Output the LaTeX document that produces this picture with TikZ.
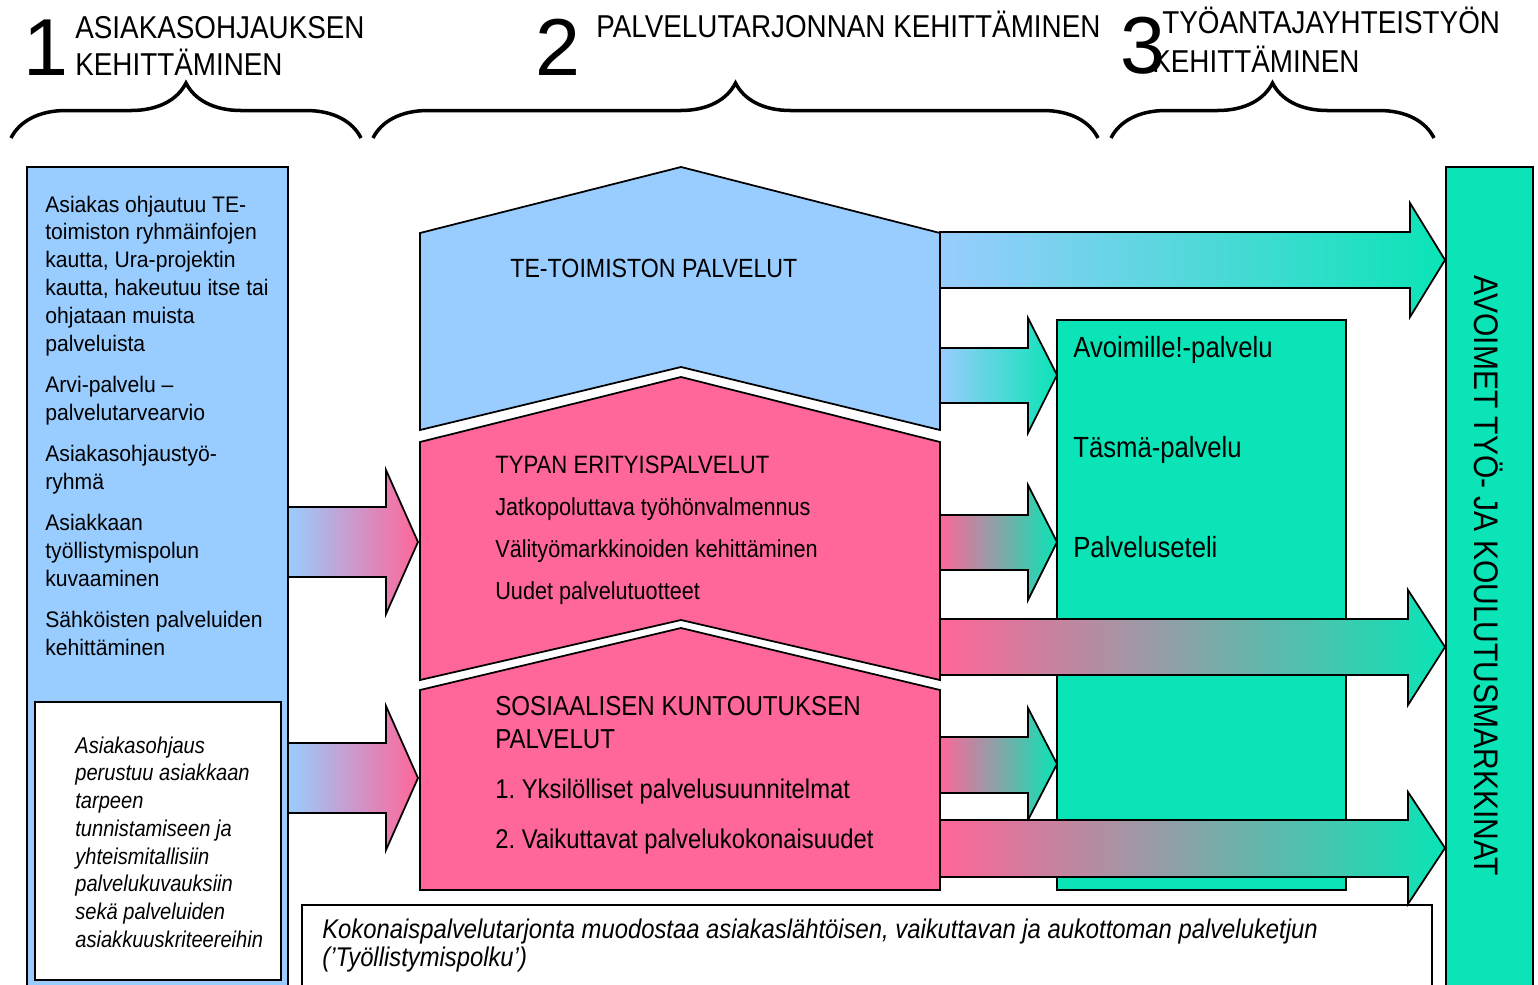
\documentclass[tikz,border=0pt]{standalone}
\usepackage{fontspec}
\setmainfont{Liberation Sans}[FakeStretch=0.88]
\newfontfamily\digitfont{Liberation Sans}
\newfontfamily\leftfont{Liberation Sans}[FakeStretch=0.94]
\usetikzlibrary{decorations.pathreplacing}
\definecolor{tblue}{RGB}{153,204,255}
\definecolor{tpink}{RGB}{255,102,153}
\definecolor{tgreen}{RGB}{10,228,182}
\frenchspacing

\begin{document}
\begin{tikzpicture}[x=0.02cm, y=-0.02cm,
    box/.style={draw=black, line width=1pt},
    house/.style={draw=black, line width=1pt, line join=miter},
    blockarr/.style={draw=black, line width=1pt, line join=miter},
    brc/.style={decorate, decoration={brace, amplitude=1.1cm}, line width=2pt},
    hdr/.style={anchor=base west, inner sep=0pt, font=\fontsize{18}{22}\selectfont},
    num/.style={anchor=base west, inner sep=0pt, font=\digitfont\fontsize{46}{50}\selectfont},
    lbl/.style={anchor=base west, inner sep=0pt}]

    \useasboundingbox (0,0) rectangle (1538,984);
    \clip (0,0) rectangle (1538,984);

    % otsikot
    \node[num] (n1) at (23,75) {1};
    \node[hdr] (h1a) at (75,38) {ASIAKASOHJAUKSEN};
    \node[hdr] (h1b) at (75,75) {KEHITTÄMINEN};
    \node[num] (n2) at (535,75) {2};
    \node[hdr] (h2) at (596,37) {PALVELUTARJONNAN KEHITTÄMINEN};
    \node[num] (n3) at (1120,73) {3};
    \node[hdr] (h3a) at (1162,33) {TYÖANTAJAYHTEISTYÖN};
    \node[hdr] (h3b) at (1152,72) {KEHITTÄMINEN};

    \draw[brc] (11,138) -- (361,138);
    \draw[brc] (373,138) -- (1098,138);
    \draw[brc] (1111,138) -- (1434,138);

    % asiakasohjaus
    \draw[box, fill=tblue] (27,167) rectangle (288,1000);
    \node[lbl, font=\leftfont\fontsize{12.8}{15.9}\selectfont] (ohjautuu) at (45,212)
        {\parbox[t]{6cm}{Asiakas ohjautuu TE-\\toimiston ryhmäinfojen\\kautta, Ura-projektin\\kautta, hakeutuu itse tai\\ohjataan muista\\palveluista\\[7.5pt]Arvi-palvelu –\\palvelutarvearvio\\[7.5pt]Asiakasohjaustyö-\\ryhmä\\[7.5pt]Asiakkaan\\työllistymispolun\\kuvaaminen\\[7.5pt]Sähköisten palveluiden\\kehittäminen}};
    \draw[box, fill=white] (35,702) rectangle (281,980);
    \node[lbl, font=\itshape\fontsize{13}{15.8}\selectfont] (perustuu) at (75,753)
        {\parbox[t]{5cm}{Asiakasohjaus\\perustuu asiakkaan\\tarpeen\\tunnistamiseen ja\\yhteismitallisiin\\palvelukuvauksiin\\sekä palveluiden\\asiakkuuskriteereihin}};

    % palvelutarjonta
    \draw[house, fill=tblue] (420,233) -- (681,167) -- (940,233) -- (940,430) -- (681,367) -- (420,430) -- cycle;
    \draw[house, fill=tpink] (420,442) -- (681,377) -- (940,442) -- (940,680) -- (681,620) -- (420,680) -- cycle;
    \draw[house, fill=tpink] (420,690) -- (681,628) -- (940,690) -- (940,890) -- (420,890) -- cycle;

    \node[lbl, font=\fontsize{15}{18}\selectfont] (te) at (510,277) {TE-TOIMISTON PALVELUT};
    \node[lbl, font=\fontsize{14.3}{17}\selectfont] (typa) at (495,473) {TYPAN ERITYISPALVELUT};
    \node[lbl, font=\fontsize{14}{17}\selectfont] (typa1) at (495,515) {Jatkopoluttava työhönvalmennus};
    \node[lbl, font=\fontsize{14}{17}\selectfont] (typa2) at (495,557) {Välityömarkkinoiden kehittäminen};
    \node[lbl, font=\fontsize{14}{17}\selectfont] (typa3) at (495,599) {Uudet palvelutuotteet};
    \node[lbl, font=\fontsize{15.6}{18}\selectfont] (sos) at (495,715) {SOSIAALISEN KUNTOUTUKSEN};
    \node[lbl, font=\fontsize{15.6}{18}\selectfont] (sosb) at (495,748) {PALVELUT};
    \node[lbl, font=\fontsize{15.4}{18}\selectfont] (sos1) at (495,798) {1. Yksilölliset palvelusuunnitelmat};
    \node[lbl, font=\fontsize{15.4}{18}\selectfont] (sos2) at (495,848) {2. Vaikuttavat palvelukokonaisuudet};

    % tyonantajat
    \draw[box, fill=tgreen] (1057,320) rectangle (1346,890);
    \node[lbl, font=\fontsize{16.6}{19}\selectfont] (avoimille) at (1073,357) {Avoimille!-palvelu};
    \node[lbl, font=\fontsize{16.6}{19}\selectfont] (tasma) at (1073,457) {Täsmä-palvelu};
    \node[lbl, font=\fontsize{16.6}{19}\selectfont] (seteli) at (1073,557) {Palveluseteli};

    \draw[box, fill=tgreen] (1446,167) rectangle (1533,1000);
    \node[rotate=-90, font=\fontsize{19.4}{22}\selectfont] (markkinat) at (1489,576) {AVOIMET TYÖ- JA KOULUTUSMARKKINAT};

    \draw[box, fill=white] (302,905) rectangle (1432,1000);
    \node[lbl, font=\itshape\fontsize{15.4}{16.4}\selectfont] (polku) at (322,938)
        {\parbox[t]{22cm}{Kokonaispalvelutarjonta muodostaa asiakaslähtöisen, vaikuttavan ja aukottoman palveluketjun\\('Työllistymispolku')}};

    % nuolet
    \draw[blockarr, left color=tblue, right color=tpink] (288,507) -- (386,507) -- (386,470) -- (418,542) -- (386,614) -- (386,577) -- (288,577) -- cycle;
    \draw[blockarr, left color=tblue, right color=tpink] (288,743) -- (386,743) -- (386,706) -- (418,778) -- (386,850) -- (386,813) -- (288,813) -- cycle;

    \draw[blockarr, left color=tblue, right color=tgreen] (940,232) -- (1410,232) -- (1410,203) -- (1445,260) -- (1410,317) -- (1410,288) -- (940,288) -- cycle;
    \draw[blockarr, left color=tblue, right color=tgreen] (940,348) -- (1028,348) -- (1028,318) -- (1057,375) -- (1028,433) -- (1028,403) -- (940,403) -- cycle;
    \draw[blockarr, left color=tpink, right color=tgreen] (940,515) -- (1028,515) -- (1028,485) -- (1057,542) -- (1028,600) -- (1028,570) -- (940,570) -- cycle;
    \draw[blockarr, left color=tpink, right color=tgreen] (940,619) -- (1408,619) -- (1408,590) -- (1445,647) -- (1408,705) -- (1408,675) -- (940,675) -- cycle;
    \draw[blockarr, left color=tpink, right color=tgreen] (940,737) -- (1028,737) -- (1028,708) -- (1057,764) -- (1028,820) -- (1028,793) -- (940,793) -- cycle;
    \draw[blockarr, left color=tpink, right color=tgreen] (940,820) -- (1408,820) -- (1408,792) -- (1445,848) -- (1408,904) -- (1408,877) -- (940,877) -- cycle;

\end{tikzpicture}
\end{document}
